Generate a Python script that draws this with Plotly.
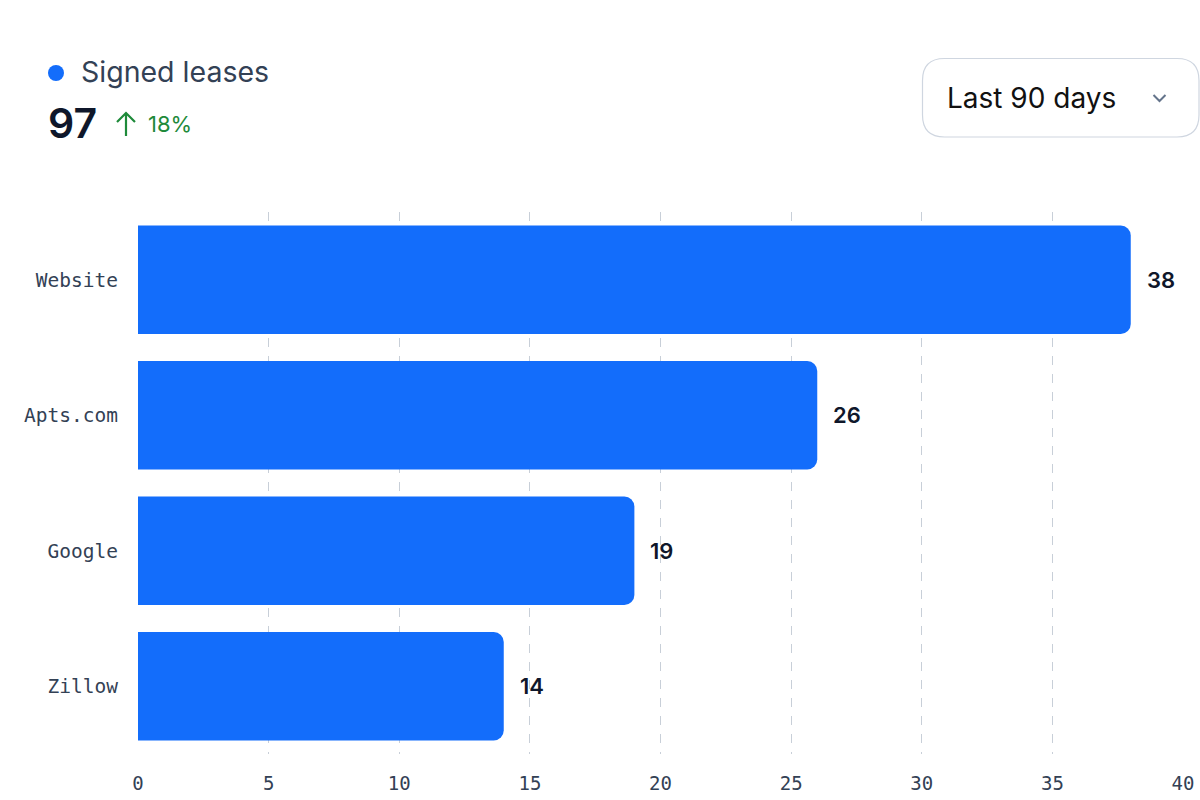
import plotly.graph_objects as go

categories = ["Website", "Apts.com", "Google", "Zillow"]
values = [38, 26, 19, 14]
x_ticks = [0, 5, 10, 15, 20, 25, 30, 35, 40]
title_text = "Signed leases"
total_text = "97"
change_text = "18%"
period_text = "Last 90 days"

W, H = 1200, 800
# plot area in page pixels: x 138..1183, y 212..754
L, R, T, B = 138, 1200 - 1183, 212, 800 - 754
PW, PH = W - L - R, H - T - B

def px(x):
    return (x - L) / PW

def py(y):
    return (H - B - y) / PH

BLUE = "#136dfb"
DARK = "#0f172a"
SLATE = "#334155"

fig = go.Figure()
fig.add_trace(go.Bar(
    x=values, y=categories, orientation="h",
    marker=dict(color=BLUE, line=dict(width=0)),
    width=0.8, hoverinfo="skip",
))

annotations = []
for c, v in zip(categories, values):
    annotations.append(dict(
        x=v, y=c, xref="x", yref="y", text=str(v), showarrow=False,
        xanchor="left", yanchor="middle", xshift=14,
        font=dict(family="Inter", size=22, color=DARK, weight=600),
    ))

# header
annotations += [
    dict(x=px(79), y=py(72), xref="paper", yref="paper", text=title_text, showarrow=False,
         xanchor="left", yanchor="middle", font=dict(family="Inter", size=28.5, color=SLATE)),
    dict(x=px(46), y=py(123), xref="paper", yref="paper", text=total_text, showarrow=False,
         xanchor="left", yanchor="middle", font=dict(family="Inter", size=41, color=DARK, weight=600)),
    dict(x=px(146), y=py(124), xref="paper", yref="paper", text=change_text, showarrow=False,
         xanchor="left", yanchor="middle", font=dict(family="Inter", size=22, color="#1e8a3a")),
    dict(x=px(945), y=py(98), xref="paper", yref="paper", text=period_text, showarrow=False,
         xanchor="left", yanchor="middle", font=dict(family="Inter", size=28, color="#111111")),
]

shapes = []
# blue dot
shapes.append(dict(type="circle", xref="paper", yref="paper",
                   x0=px(48), x1=px(64), y0=py(81), y1=py(65),
                   fillcolor=BLUE, line=dict(width=0)))
# up arrow
shapes.append(dict(type="path", xref="paper", yref="paper",
                   path=f"M {px(126)},{py(136)} L {px(126)},{py(113)} M {px(117)},{py(122)} L {px(126)},{py(113)} L {px(135)},{py(122)}",
                   line=dict(color="#1e8a3a", width=2.2)))
# dropdown rounded rect
x0, x1, y0, y1, r = 922.5, 1199, 58.5, 137, 22
def P(x, y):
    return f"{px(x)},{py(y)}"
path = (f"M {P(x0 + r, y0)} L {P(x1 - r, y0)} Q {P(x1, y0)} {P(x1, y0 + r)} "
        f"L {P(x1, y1 - r)} Q {P(x1, y1)} {P(x1 - r, y1)} "
        f"L {P(x0 + r, y1)} Q {P(x0, y1)} {P(x0, y1 - r)} "
        f"L {P(x0, y0 + r)} Q {P(x0, y0)} {P(x0 + r, y0)} Z")
shapes.append(dict(type="path", xref="paper", yref="paper", path=path,
                   line=dict(color="#cfd6e0", width=1.2), fillcolor="white"))
# chevron
shapes.append(dict(type="path", xref="paper", yref="paper",
                   path=f"M {P(1153.5, 95)} L {P(1159.5, 101)} L {P(1165.5, 95)}",
                   line=dict(color="#64748b", width=2)))

fig.update_layout(
    width=W, height=H,
    margin=dict(l=L, r=R, t=T, b=B, autoexpand=False),
    paper_bgcolor="white", plot_bgcolor="white",
    showlegend=False, barcornerradius=10,
    annotations=annotations, shapes=shapes,
    xaxis=dict(range=[0, 40], tickvals=x_ticks, showgrid=True, gridcolor="#c8cfd8",
               griddash="dash", gridwidth=1, zeroline=False, showline=False, ticks="",
               tickfont=dict(family="DejaVu Sans Mono", size=19, color=SLATE),
               ticklabelstandoff=16, fixedrange=True),
    yaxis=dict(autorange="reversed", showgrid=False, zeroline=False, showline=False, ticks="",
               tickfont=dict(family="DejaVu Sans Mono", size=19.5, color=SLATE),
               ticklabelstandoff=19, fixedrange=True),
)

fig.write_html(
    "out.html",
    config={"displayModeBar": False},
    post_script="document.body.style.margin='0';document.body.style.overflow='hidden';",
)
